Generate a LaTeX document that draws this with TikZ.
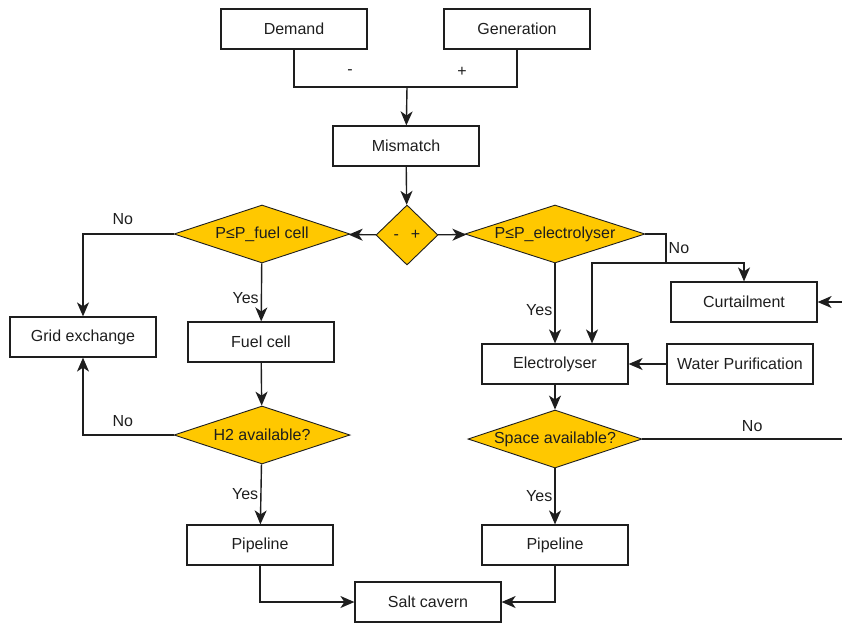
\documentclass[tikz,border=0pt]{standalone}
\usepackage{fontspec}
\setmainfont{Liberation Sans}
\usetikzlibrary{arrows.meta,shapes.geometric}
\definecolor{decision}{RGB}{255,200,0}
\definecolor{ink}{RGB}{30,30,30}
\tikzstyle{box}=[draw=ink,line width=1.2pt,minimum width=146pt,minimum height=40pt,inner sep=0pt,text=ink,font=\fontsize{16}{19}\selectfont]
\tikzstyle{check}=[diamond,draw=ink,fill=decision,line width=0.9pt,shape aspect=3,inner sep=0pt,minimum height=58pt,text=ink,font=\fontsize{16}{19}\selectfont]
\tikzstyle{edge}=[draw=ink,line width=1.4pt,-{Stealth[length=14pt,width=12pt,inset=4pt]}]
\tikzstyle{wire}=[draw=ink,line width=1.4pt]
\tikzstyle{tag}=[text=ink,inner sep=2pt,font=\fontsize{16}{19}\selectfont]

\begin{document}
\begin{tikzpicture}[x=1pt,y=-1pt]
    \useasboundingbox (0,0) rectangle (842,622);
    % First we draw the boxes
    \foreach \pos/\name/\text in {{(294,29)/Demand/Demand}, {(517,29)/Generation/Generation}, {(406,146)/Mismatch/Mismatch}, {(83,337)/Grid/Grid exchange}, {(261,342)/FuelCell/Fuel cell}, {(744,302)/Curtail/Curtailment}, {(555,364)/Electrolyser/Electrolyser}, {(740,364)/Water/Water Purification}, {(260,545)/PipeL/Pipeline}, {(555,545)/PipeR/Pipeline}, {(428,602)/Cavern/Salt cavern}}
        \node[box] (\name) at \pos {\text};

    % then the decisions
    \foreach \pos/\name/\w/\text in {{(262,234)/FCcheck/176/P≤P\_fuel cell}, {(555,234)/ELcheck/180/P≤P\_electrolyser}, {(262,435)/H2check/176/H2 available?}, {(555,439)/Space/174/Space available?}}
        \node[check,minimum width=\w pt] (\name) at \pos {\text};
    \node[check,shape aspect=1,minimum width=62pt,minimum height=60pt] (Sign) at (407,235) {-\hspace{12pt}+};

    % free ends and corners
    \coordinate (Join) at (407,87);
    \coordinate (Split) at (666,263);
    \coordinate (SpaceOut) at (842,439);
    \coordinate (CurtIn) at (842,302);

    % Connect everything
    \path[wire] (Demand.south) |- (Join) -| (Generation.south);
    \node[tag] (minus) at (350,72) {-};
    \node[tag] (plus) at (462,72) {+};
    \foreach \source/\dest in {Join/Mismatch, Mismatch/Sign, Sign/FCcheck, Sign/ELcheck, FuelCell/H2check, Water/Electrolyser, Electrolyser/Space, CurtIn/Curtail}
        \path[edge] (\source) -- (\dest);

    \path[edge] (FCcheck) -- node[tag,pos=0.6,left] {Yes} (FuelCell);
    \path[edge] (H2check) -- node[tag,pos=0.5,left] {Yes} (PipeL);
    \path[edge] (ELcheck) -- node[tag,pos=0.58,left] {Yes} (Electrolyser);
    \path[edge] (Space) -- node[tag,pos=0.5,left] {Yes} (PipeR);

    \path[edge] (FCcheck.west) -| node[tag,pos=0.28,above=7pt] {No} (Grid.north);
    \path[edge] (H2check.west) -| node[tag,pos=0.28,above=6pt] {No} (Grid.south);
    \path[wire] (ELcheck.east) -| node[tag,pos=0.75,right] {No} (Split);
    \path[edge] (Split) -| (Curtail.north);
    \path[edge] (Split) -| ([xshift=37pt]Electrolyser.north);
    \path[wire] (Space.east) -- node[tag,pos=0.55,above=5pt] {No} (SpaceOut);

    \path[edge] (PipeL.south) |- (Cavern.west);
    \path[edge] (PipeR.south) |- (Cavern.east);
\end{tikzpicture}
\end{document}
